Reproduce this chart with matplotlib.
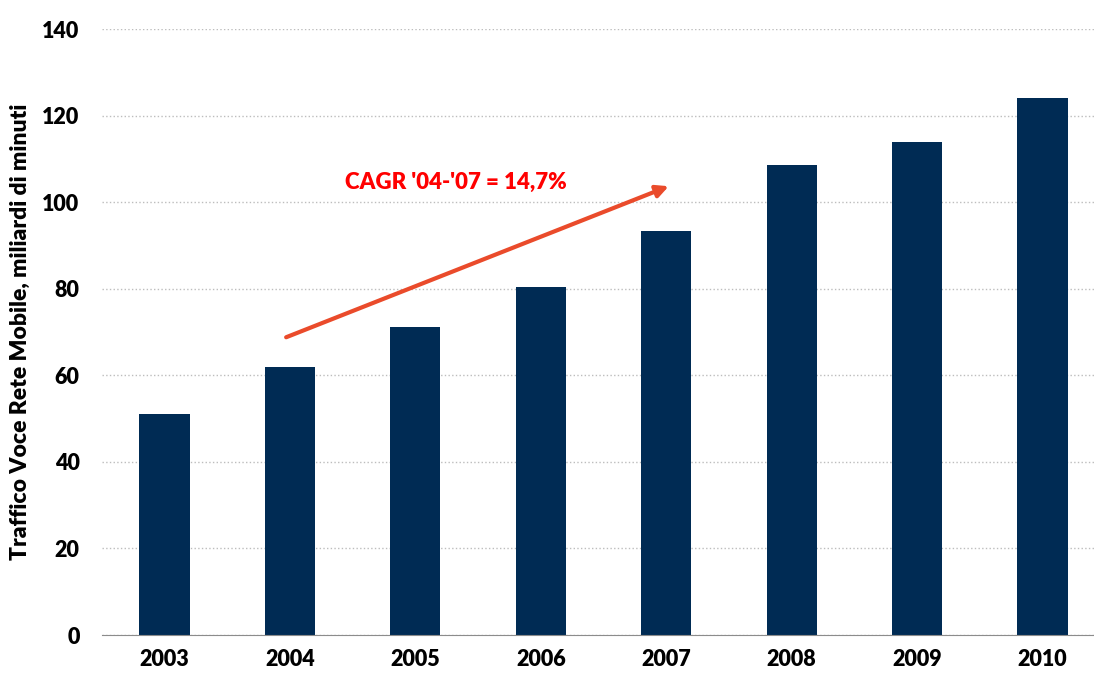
import matplotlib
matplotlib.use("Agg")
import matplotlib.pyplot as plt

years = ["2003", "2004", "2005", "2006", "2007", "2008", "2009", "2010"]
traffic = [51.0, 61.9, 71.1, 80.4, 93.3, 108.6, 113.9, 124.0]

plt.rcParams['font.family'] = ['Lato', 'DejaVu Sans']

fig = plt.figure(figsize=(10.94, 6.77), dpi=100)
ax = fig.add_axes([0.093, 0.062, 0.907, 0.895])

x = range(len(years))
ax.bar(x, traffic, width=0.4, color="#002b54", zorder=3)

ax.set_xlim(-0.5, 7.41)
ax.set_ylim(0, 140)
ax.set_yticks(range(0, 141, 20))
ax.set_xticks(list(x))
ax.set_xticklabels(years)
ax.tick_params(length=0, labelsize=15.5, pad=10)
ax.tick_params(axis='y', pad=16)
for lbl in ax.get_xticklabels() + ax.get_yticklabels():
    lbl.set_fontweight('heavy')

ax.grid(axis='y', linestyle=':', color='#bdbdbd', linewidth=1, zorder=0)
for s in ['top', 'right', 'left']:
    ax.spines[s].set_visible(False)
ax.spines['bottom'].set_color('#8c8c8c')
ax.spines['bottom'].set_zorder(4)

ax.set_ylabel("Traffico Voce Rete Mobile, miliardi di minuti",
              fontsize=16.5, fontweight='heavy', labelpad=8)

# CAGR arrow
ax.annotate("", xy=(4.02, 103.7), xytext=(0.97, 68.8),
            arrowprops=dict(arrowstyle='-|>', color='#ea4b2b', lw=3,
                            mutation_scale=18, shrinkA=0, shrinkB=0),
            zorder=5)
ax.text(2.32, 104.6, "CAGR '04-'07 = 14,7%", color='#ff0000',
        fontsize=16, fontweight='heavy', ha='center', va='center')

fig.savefig("out.png", dpi=100)
